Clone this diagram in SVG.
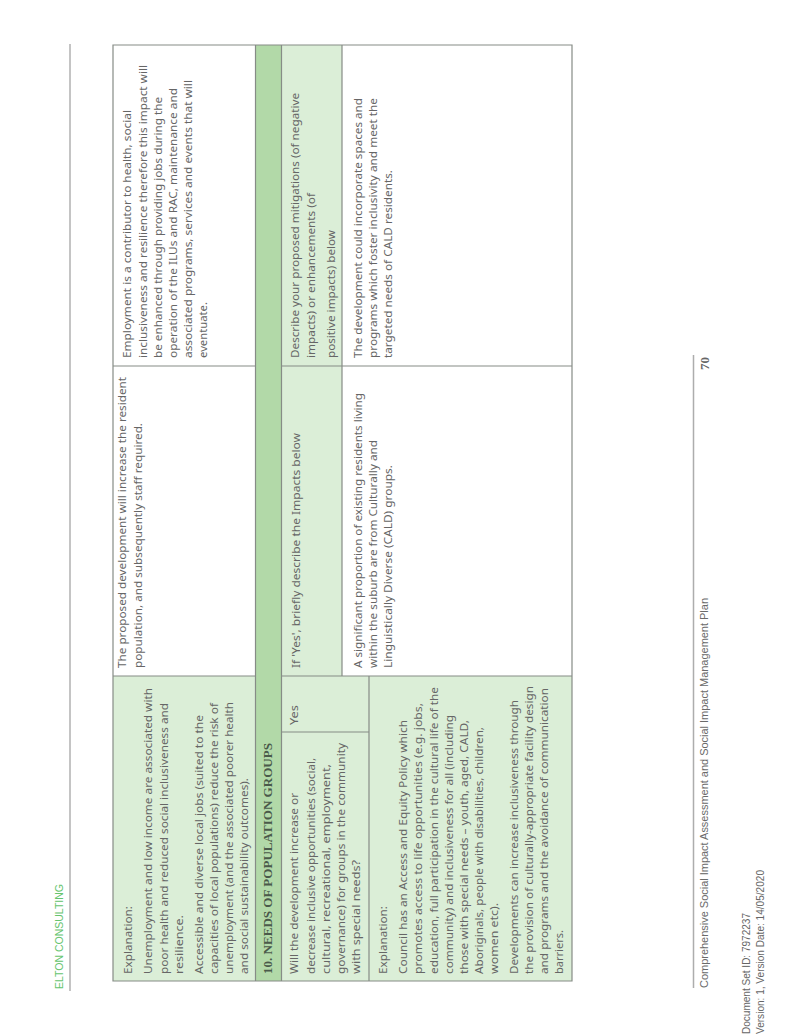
<svg xmlns="http://www.w3.org/2000/svg" width="796" height="1036" viewBox="0 0 796 1036">
<style>
text{font-family:"Noto Sans","Open Sans","DejaVu Sans",sans-serif;font-size:11.500px;fill:#666}
.h{font-family:"Liberation Serif",serif;font-weight:bold;font-size:13px;fill:#4a5a4a}
.f{font-family:"Liberation Sans",Arial,sans-serif;font-size:11.500px;fill:#6a6a6a}
.d{font-family:"Liberation Sans",Arial,sans-serif;font-size:10px;fill:#666}
.p{font-family:"Liberation Serif",serif;font-weight:bold;font-size:13px;fill:#666}
.b{font-family:"Liberation Sans",Arial,sans-serif;font-size:11px;fill:#66c46e}
.l{stroke:#868c86;stroke-width:1.200;fill:none}
</style>
<rect width="796" height="1036" fill="#fff"/>
<g id="table-cells">
<rect x="113" y="676" width="142" height="305" fill="#dbeed7"/>
<rect x="256" y="45" width="25" height="936" fill="#b2d9a8"/>
<rect x="282" y="45" width="60" height="631" fill="#dbeed7"/>
<rect x="282" y="676" width="87" height="305" fill="#dbeed7"/>
<rect x="369" y="676" width="203" height="305" fill="#dbeed7"/>
</g>
<g id="connectors" class="l">
<path d="M113 45H572V981H113Z"/>
<path d="M255.500 45V981M281.500 45V981"/>
<path d="M342 45V676M369 676V981"/>
<path d="M113 366H255M281 366H572M113 676H255M281 676H572"/>
<path d="M281 732H369"/>
<path d="M70 44V991" stroke="#b0b0b0" stroke-width="1.500"/>
<path d="M693.500 355V988" stroke="#adadad" stroke-width="1.500"/>
</g>
<g id="header"><text class="b" transform="translate(63 989) rotate(-90)" textLength="105" lengthAdjust="spacingAndGlyphs">ELTON CONSULTING</text></g>
<g id="cell-explanation-1">
<text transform="translate(132 974) rotate(-90)" textLength="68" lengthAdjust="spacingAndGlyphs">Explanation:</text>
<text transform="translate(152 974) rotate(-90)" textLength="286" lengthAdjust="spacingAndGlyphs">Unemployment and low income are associated with</text>
<text transform="translate(167.500 974) rotate(-90)" textLength="271" lengthAdjust="spacingAndGlyphs">poor health and reduced social inclusiveness and</text>
<text transform="translate(183 974) rotate(-90)" textLength="59" lengthAdjust="spacingAndGlyphs">resilience.</text>
<text transform="translate(203 974) rotate(-90)" textLength="259" lengthAdjust="spacingAndGlyphs">Accessible and diverse local jobs (suited to the</text>
<text transform="translate(218 974) rotate(-90)" textLength="271" lengthAdjust="spacingAndGlyphs">capacities of local populations) reduce the risk of</text>
<text transform="translate(233 974) rotate(-90)" textLength="272" lengthAdjust="spacingAndGlyphs">unemployment (and the associated poorer health</text>
<text transform="translate(248 974) rotate(-90)" textLength="196" lengthAdjust="spacingAndGlyphs">and social sustainability outcomes).</text>
</g>
<g id="section-header"><text class="h" transform="translate(272 974) rotate(-90)" textLength="231" lengthAdjust="spacingAndGlyphs">10. NEEDS OF POPULATION GROUPS</text></g>
<g id="cell-question">
<text transform="translate(298 974) rotate(-90)" textLength="181" lengthAdjust="spacingAndGlyphs">Will the development increase or</text>
<text transform="translate(315 974) rotate(-90)" textLength="216" lengthAdjust="spacingAndGlyphs">decrease inclusive opportunities (social,</text>
<text transform="translate(330 974) rotate(-90)" textLength="210" lengthAdjust="spacingAndGlyphs">cultural, recreational, employment,</text>
<text transform="translate(345 974) rotate(-90)" textLength="231" lengthAdjust="spacingAndGlyphs">governance) for groups in the community</text>
<text transform="translate(360 974) rotate(-90)" textLength="114" lengthAdjust="spacingAndGlyphs">with special needs?</text>
</g>
<g id="cell-yes"><text transform="translate(298 725) rotate(-90)" textLength="20" lengthAdjust="spacingAndGlyphs">Yes</text></g>
<g id="cell-explanation-2">
<text transform="translate(387 974) rotate(-90)" textLength="68" lengthAdjust="spacingAndGlyphs">Explanation:</text>
<text transform="translate(407 974) rotate(-90)" textLength="254" lengthAdjust="spacingAndGlyphs">Council has an Access and Equity Policy which</text>
<text transform="translate(422 974) rotate(-90)" textLength="271" lengthAdjust="spacingAndGlyphs">promotes access to life opportunities (e.g. jobs,</text>
<text transform="translate(438 974) rotate(-90)" textLength="287" lengthAdjust="spacingAndGlyphs">education, full participation in the cultural life of the</text>
<text transform="translate(453 974) rotate(-90)" textLength="259" lengthAdjust="spacingAndGlyphs">community) and inclusiveness for all (including</text>
<text transform="translate(468 974) rotate(-90)" textLength="254" lengthAdjust="spacingAndGlyphs">those with special needs – youth, aged, CALD,</text>
<text transform="translate(483 974) rotate(-90)" textLength="247" lengthAdjust="spacingAndGlyphs">Aboriginals, people with disabilities, children,</text>
<text transform="translate(498 974) rotate(-90)" textLength="71" lengthAdjust="spacingAndGlyphs">women etc).</text>
<text transform="translate(518 974) rotate(-90)" textLength="274" lengthAdjust="spacingAndGlyphs">Developments can increase inclusiveness through</text>
<text transform="translate(533 974) rotate(-90)" textLength="288" lengthAdjust="spacingAndGlyphs">the provision of culturally-appropriate facility design</text>
<text transform="translate(548 974) rotate(-90)" textLength="286" lengthAdjust="spacingAndGlyphs">and programs and the avoidance of communication</text>
<text transform="translate(563 974) rotate(-90)" textLength="44" lengthAdjust="spacingAndGlyphs">barriers.</text>
</g>
<g id="cell-middle-1">
<text transform="translate(126 668) rotate(-90)" textLength="291" lengthAdjust="spacingAndGlyphs">The proposed development will increase the resident</text>
<text transform="translate(142 668) rotate(-90)" textLength="245" lengthAdjust="spacingAndGlyphs">population, and subsequently staff required.</text>
</g>
<g id="cell-middle-2"><text transform="translate(300 668) rotate(-90)" textLength="235" lengthAdjust="spacingAndGlyphs">If 'Yes', briefly describe the Impacts below</text></g>
<g id="cell-middle-3">
<text transform="translate(362 668) rotate(-90)" textLength="275" lengthAdjust="spacingAndGlyphs">A significant proportion of existing residents living</text>
<text transform="translate(377 668) rotate(-90)" textLength="228" lengthAdjust="spacingAndGlyphs">within the suburb are from Culturally and</text>
<text transform="translate(392 668) rotate(-90)" textLength="203" lengthAdjust="spacingAndGlyphs">Linguistically Diverse (CALD) groups.</text>
</g>
<g id="cell-right-1">
<text transform="translate(131 358) rotate(-90)" textLength="248" lengthAdjust="spacingAndGlyphs">Employment is a contributor to health, social</text>
<text transform="translate(147 358) rotate(-90)" textLength="293" lengthAdjust="spacingAndGlyphs">inclusiveness and resilience therefore this impact will</text>
<text transform="translate(162 358) rotate(-90)" textLength="261" lengthAdjust="spacingAndGlyphs">be enhanced through providing jobs during the</text>
<text transform="translate(177 358) rotate(-90)" textLength="270" lengthAdjust="spacingAndGlyphs">operation of the ILUs and RAC, maintenance and</text>
<text transform="translate(192 358) rotate(-90)" textLength="278" lengthAdjust="spacingAndGlyphs">associated programs, services and events that will</text>
<text transform="translate(207 358) rotate(-90)" textLength="56" lengthAdjust="spacingAndGlyphs">eventuate.</text>
</g>
<g id="cell-right-2">
<text transform="translate(299 358) rotate(-90)" textLength="265" lengthAdjust="spacingAndGlyphs">Describe your proposed mitigations (of negative</text>
<text transform="translate(315 358) rotate(-90)" textLength="165" lengthAdjust="spacingAndGlyphs">impacts) or enhancements (of</text>
<text transform="translate(335 358) rotate(-90)" textLength="128" lengthAdjust="spacingAndGlyphs">positive impacts) below</text>
</g>
<g id="cell-right-3">
<text transform="translate(362 358) rotate(-90)" textLength="260" lengthAdjust="spacingAndGlyphs">The development could incorporate spaces and</text>
<text transform="translate(377 358) rotate(-90)" textLength="260" lengthAdjust="spacingAndGlyphs">programs which foster inclusivity and meet the</text>
<text transform="translate(392 358) rotate(-90)" textLength="188" lengthAdjust="spacingAndGlyphs">targeted needs of CALD residents.</text>
</g>
<g id="footer">
<text class="f" transform="translate(708 988) rotate(-90)" textLength="390" lengthAdjust="spacingAndGlyphs">Comprehensive Social Impact Assessment and Social Impact Management Plan</text>
<text class="p" transform="translate(709 370) rotate(-90)">70</text>
<text class="d" transform="translate(750 1034) rotate(-90)" textLength="121" lengthAdjust="spacingAndGlyphs">Document Set ID: 7972237</text>
<text class="d" transform="translate(764 1034) rotate(-90)" textLength="164" lengthAdjust="spacingAndGlyphs">Version: 1, Version Date: 14/05/2020</text>
</g>
</svg>
